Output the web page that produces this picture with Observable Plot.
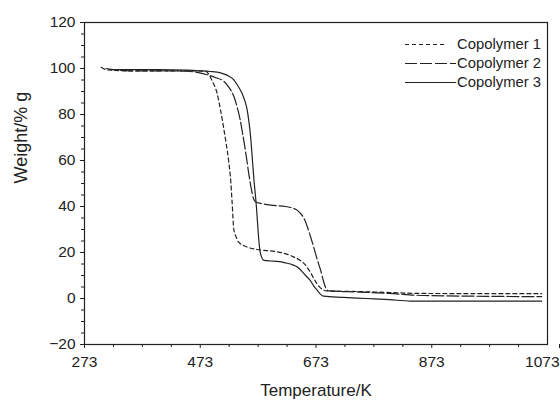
<!DOCTYPE html>
<html><head><meta charset="utf-8">
<script src="https://cdn.jsdelivr.net/npm/d3@7"></script>
<script src="https://cdn.jsdelivr.net/npm/@observablehq/plot@0.6"></script>
<style>
body{margin:0;background:#fff;font-family:"Liberation Sans",Arial,sans-serif;}
#wrap{position:relative;width:560px;height:407px;}
.leg{position:absolute;left:400px;width:141px;height:18px;display:flex;align-items:center;justify-content:flex-end;font-size:14.8px;color:#222;white-space:nowrap;}
.leg svg{flex:1 1 auto;height:18px;margin-right:1px;}
</style></head><body><div id="wrap"></div><script>
const seriesNames = ["Copolymer 1", "Copolymer 2", "Copolymer 3"];

const temp1 = [302, 310, 350, 400, 450, 482, 494, 502, 508, 513, 518, 522, 526, 528, 531, 535, 539, 554, 571, 590, 606, 620, 634, 646, 655, 663, 672, 681, 692, 750, 800, 850, 1063];
const weight1 = [100.5, 99.5, 99, 99, 99, 98.8, 94.4, 89.3, 82, 74.8, 67, 60, 50, 42, 30, 26.8, 24.6, 22.4, 21.3, 20.8, 20.3, 19.5, 18.1, 16.5, 14.5, 11.5, 7.5, 4.5, 3.3, 3.0, 2.6, 2.2, 2.1];

const temp2 = [310, 350, 400, 450, 470, 485, 500, 514, 522, 531, 537, 542, 546, 550, 553, 557, 561, 565, 569, 580, 600, 620, 634, 641, 646, 652, 658, 664, 669, 675, 681, 686, 690, 695, 750, 800, 860, 1063];
const weight2 = [100, 99, 99, 98.8, 98.2, 97.3, 96, 94.4, 92, 87.9, 83, 77.7, 72, 66, 61, 54, 48, 43.5, 42, 41.2, 40.5, 40, 39.2, 38.3, 37, 35, 31.2, 26.5, 22.4, 17, 12.3, 7.5, 4.5, 3.3, 2.8, 2.2, 1.3, 0.8];

const temp3 = [318, 400, 450, 473, 490, 508, 520, 531, 538, 545, 550, 554, 557, 560, 562, 564, 566, 568, 570, 572, 574, 576, 579, 583, 595, 606, 620, 634, 642, 648, 655, 663, 669, 675, 681, 686, 720, 761, 800, 836, 1063];
const weight3 = [99.5, 99.5, 99.3, 99, 98.7, 98.1, 97, 95.1, 92.5, 89.3, 86, 82.1, 77, 70.4, 64, 57.3, 51, 45.7, 40, 33, 26, 21, 18, 16.6, 16.3, 16.1, 15.5, 14.5, 13.5, 12, 10, 7.9, 5.5, 3.6, 1.8, 1.0, 0.5, 0, -0.5, -1.1, -1.1];

const xTicks = [273, 473, 673, 873, 1073];
const yTicks = [-20, 0, 20, 40, 60, 80, 100, 120];
const xLabel = "Temperature/K";
const yLabel = "Weight/% g";

const xMinor = d3.range(273, 1074, 50).filter(v => !xTicks.includes(v));
const yMinor = d3.range(-20, 121, 5).filter(v => !yTicks.includes(v));

const temps = [temp1, temp2, temp3];
const weights = [weight1, weight2, weight3];
const table = seriesNames.map((s, i) => temps[i].map((t, j) => ({series: s, T: t, W: weights[i][j]})));
const dashes = ["4,3", "12,3", "none"];
const ink = "#222";

const plot = Plot.plot({
  width: 560, height: 407,
  marginLeft: 84, marginRight: 13, marginTop: 22, marginBottom: 63,
  x: {domain: [273, 1073]},
  y: {domain: [-20, 120]},
  style: {fontFamily: "'Liberation Sans', Arial, sans-serif", fontSize: "15.5px", color: ink, background: "white"},
  marks: [
    Plot.axisX({ticks: xMinor, tickSize: 3, tickFormat: () => "", label: null, stroke: ink}),
    Plot.axisX({ticks: xTicks.slice(0, -1), tickSize: 4, tickPadding: 7, tickFormat: d => String(d), label: null, stroke: ink}),
    Plot.axisX({ticks: xTicks.slice(-1), tickSize: 4, tickPadding: 7, tickFormat: d => String(d), label: null, stroke: ink, textAnchor: "end", dx: 12}),
    Plot.axisY({ticks: yMinor, tickSize: 3, tickFormat: () => "", label: null, stroke: ink}),
    Plot.axisY({ticks: yTicks, tickSize: 4, tickPadding: 5, label: null, stroke: ink}),
    ...table.map((rows, i) => Plot.line(rows, {x: "T", y: "W", stroke: ink, strokeWidth: 1.2, strokeDasharray: dashes[i], curve: "monotone-x"})),
    Plot.frame({stroke: ink, strokeWidth: 1.2}),
    Plot.text([xLabel], {text: d => d, frameAnchor: "bottom", dy: 46, fontSize: 17, lineAnchor: "middle", fill: ink}),
    Plot.text([yLabel], {text: d => d, frameAnchor: "left", dx: -63, rotate: -90, fontSize: 18, lineAnchor: "middle", fill: ink})
  ]
});
const wrap = document.getElementById("wrap");
wrap.appendChild(plot);

const rowY = [44, 63, 82];
seriesNames.forEach((name, i) => {
  const row = document.createElement("div");
  row.className = "leg";
  row.style.top = (rowY[i] - 9) + "px";
  const svg = d3.create("svg").attr("height", 18);
  svg.append("line").attr("x1", 5).attr("x2", "100%").attr("y1", 9.5).attr("y2", 9.5)
    .attr("stroke", ink).attr("stroke-width", 1.2).attr("stroke-dasharray", dashes[i]);
  row.appendChild(svg.node());
  const span = document.createElement("span");
  span.textContent = name;
  span.style.marginLeft = i === 0 ? "10px" : "0px";
  row.appendChild(span);
  wrap.appendChild(row);
});
</script></body></html>
